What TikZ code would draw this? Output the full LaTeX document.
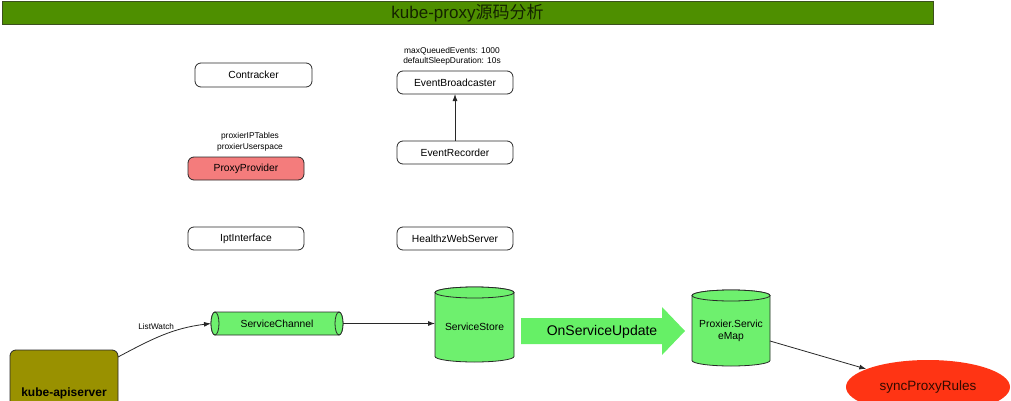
\documentclass[tikz,border=0pt]{standalone}
\usepackage{fontspec}
\setmainfont{Liberation Sans}
\newfontfamily\cjk{Noto Sans CJK SC}
\usetikzlibrary{arrows.meta,shapes.geometric,backgrounds}
\definecolor{titlegreen}{RGB}{78,143,0}
\definecolor{titleborder}{RGB}{60,80,30}
\definecolor{cylgreen}{RGB}{110,240,110}
\definecolor{arrowgreen}{RGB}{102,240,102}
\definecolor{provred}{RGB}{244,124,124}
\definecolor{apiolive}{RGB}{153,145,0}
\definecolor{syncred}{RGB}{255,52,20}
\definecolor{edgegray}{RGB}{40,40,40}
\newcommand\drawvcyl[3]{%
 \begin{scope}[on background layer]
 \filldraw[cylpath] ([yshift=-#3 pt]#1.north west) -- ([yshift=#3 pt]#1.south west)
   arc[start angle=180,end angle=360,x radius=#2 pt,y radius=#3 pt]
   -- ([yshift=-#3 pt]#1.north east)
   arc[start angle=0,end angle=180,x radius=#2 pt,y radius=#3 pt] -- cycle;
 \draw[cylpath] ([yshift=-#3 pt]#1.north) ellipse[x radius=#2 pt,y radius=#3 pt];
 \end{scope}}
\tikzset{
  box/.style={draw=edgegray, line width=0.8pt, rounded corners=6pt, minimum width=116pt,
    minimum height=23pt, inner sep=0pt, outer sep=0pt, font=\fontsize{10.3}{12}\selectfont},
  note/.style={align=center, inner sep=0pt, font=\fontsize{8.4}{10.6}\selectfont},
  cylnode/.style={inner sep=0pt, outer sep=0pt, align=center, font=\fontsize{10.3}{12.5}\selectfont},
  cylpath/.style={draw=edgegray, line width=0.8pt, fill=cylgreen},
  conn/.style={draw=edgegray, line width=0.8pt, -{Latex[length=7pt,width=5pt]}},
}
\begin{document}
\begin{tikzpicture}[x=1pt,y=1pt]
\useasboundingbox (0,0) rectangle (1011,400);
\clip (0,0) rectangle (1011,400);
% title
\node[draw=titleborder, line width=1pt, fill=titlegreen, minimum width=931pt, minimum height=23pt,
  inner sep=0pt, font=\fontsize{17}{20}\selectfont, text={rgb,255:red,20;green,35;blue,0}]
  (title) at (467.5,386.5) {kube-proxy{\cjk 源码分析}};
% left column
\node[box, minimum width=117pt, minimum height=24pt] (contracker) at (253.5,325) {Contracker};
\node[note] (pplabel) at (250,258) {proxierIPTables\\proxierUserspace};
\node[box, fill=provred] (proxyprovider) at (246,231.5) {ProxyProvider};
\node[box] (ipt) at (246,161.5) {IptInterface};
% middle column
\node[note] (eblabel) at (452,343.5) {maxQueuedEvents: 1000\\defaultSleepDuration: 10s};
\node[box] (eb) at (455,317.5) {EventBroadcaster};
\node[box] (er) at (455,247.5) {EventRecorder};
\node[box] (hz) at (455,161.5) {HealthzWebServer};
\draw[conn] (er.north) -- (eb.south);
% kube-apiserver
\node[draw=edgegray, line width=0.8pt, fill=apiolive, rounded corners=6pt, minimum width=108pt,
  minimum height=86pt, inner sep=0pt, outer sep=0pt, font=\bfseries\fontsize{12}{14}\selectfont]
  (api) at (64,7) {kube-apiserver};
% ServiceChannel (horizontal cylinder)
\node[cylnode, minimum width=132pt, minimum height=23pt] (sc) at (277,76.5) {ServiceChannel};
\begin{scope}[on background layer]
\filldraw[cylpath] ([xshift=4pt]sc.north west) -- ([xshift=-4pt]sc.north east)
  arc[start angle=90,end angle=-90,x radius=4pt,y radius=11.5pt]
  -- ([xshift=4pt]sc.south west)
  arc[start angle=270,end angle=90,x radius=4pt,y radius=11.5pt] -- cycle;
\draw[cylpath] ([xshift=4pt]sc.west) ellipse[x radius=4pt,y radius=11.5pt];
\draw[cylpath] ([xshift=-4pt]sc.east) ellipse[x radius=4pt,y radius=11.5pt];
\end{scope}
% ServiceStore
\node[cylnode, minimum width=79pt, minimum height=75pt] (ss) at (474.5,75.5)
  {\raisebox{-2.5pt}[\height][\depth]{ServiceStore}};
\drawvcyl{ss}{39.5}{5.5}
% big arrow
\fill[arrowgreen] (521,82) -- (662,82) -- (662,93) -- (685,69) -- (662,45) -- (662,56) -- (521,56) -- cycle;
\node[inner sep=0pt, font=\fontsize{14}{16}\selectfont] (osu) at (602,68.5) {OnServiceUpdate};
% Proxier.ServiceMap
\node[cylnode, minimum width=78pt, minimum height=76pt] (psm) at (731,72)
  {\raisebox{-3pt}[\height][\depth]{\begin{tabular}{@{}c@{}}Proxier.Servic\\eMap\end{tabular}}};
\drawvcyl{psm}{39}{5.5}
% syncProxyRules
\node[ellipse, fill=syncred, minimum width=164pt, minimum height=54pt, inner sep=0pt,
  font=\fontsize{13.5}{16}\selectfont, text={rgb,255:red,50;green,10;blue,0}] (sync) at (928,13) {syncProxyRules};
% connectors
\draw[conn] ([yshift=-7pt]api.north east) to[out=28, in=187]
  node[pos=0.42, above=5pt, font=\fontsize{8.2}{10}\selectfont] (lw) {ListWatch} (sc.west);
\draw[conn] (sc.east) -- (sc.east -| ss.west);
\draw[conn] ([yshift=-13pt]psm.east) -- (sync);
\end{tikzpicture}
\end{document}
